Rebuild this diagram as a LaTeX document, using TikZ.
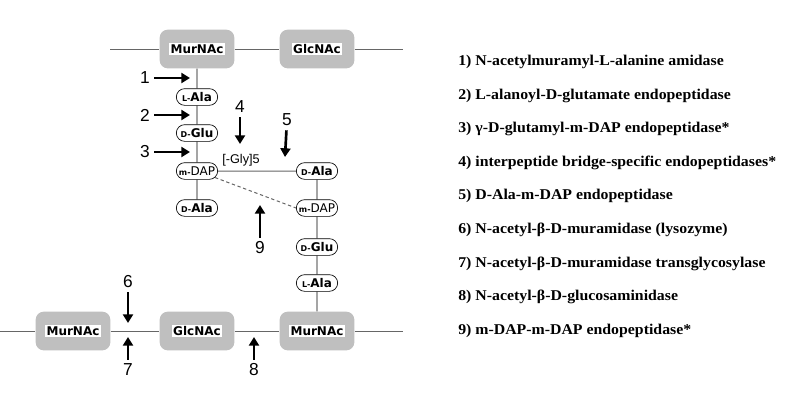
\documentclass[tikz,border=0pt]{standalone}
\usepackage{fontspec}
\setmainfont{Liberation Serif}
\newfontfamily\arial{Liberation Sans}
\newfontfamily\dejavu{DejaVu Sans}
\newfontfamily\wideserif[FakeStretch=1.06]{Liberation Serif}
\usetikzlibrary{arrows.meta,shapes.misc}

\newcommand\wbg[1]{{\setlength\fboxsep{1pt}\colorbox{white}{#1}}}
\newcommand\sm[1]{{\fontsize{6}{7}\selectfont #1}}

\begin{document}
\begin{tikzpicture}[x=0.75pt,y=-0.75pt,>={Triangle[length=6.5pt,width=7.5pt]},
    sugar/.style={fill=black!25,rounded corners=6pt,minimum width=56pt,
                  minimum height=29pt,font=\dejavu\bfseries\fontsize{9}{10}\selectfont},
    amino/.style={draw,rounded rectangle,minimum width=33pt,minimum height=12.5pt,
                  inner sep=1pt,line width=0.5pt,font=\dejavu\bfseries\fontsize{9}{10}\selectfont},
    num/.style={font=\arial\fontsize{13}{14}\selectfont,inner sep=1pt},
    cut/.style={->,line width=2pt,shorten <=2pt},
    glycan/.style={black!60,line width=0.75pt},
    peptide/.style={black,line width=0.5pt},
    legend/.style={anchor=west,inner sep=0pt,font=\wideserif\bfseries\fontsize{11.2}{13}\selectfont}]

  \useasboundingbox (0,0) rectangle (794,411);

  % glycan strands
  \node[sugar] (mur1) at (197,49)  {\wbg{MurNAc}};
  \node[sugar] (glc1) at (317,49)  {\wbg{GlcNAc}};
  \node[sugar] (mur2) at (73,331)  {\wbg{MurNAc}};
  \node[sugar] (glc2) at (197,331) {\wbg{GlcNAc}};
  \node[sugar] (mur3) at (317,331) {\wbg{MurNAc}};
  \coordinate (topW) at (110,49);
  \coordinate (topE) at (403,49);
  \coordinate (botW) at (0,331);
  \coordinate (botE) at (403,331);

  % stem peptides
  \node[amino] (ala1)  at (197,97)  {\sm{L-}Ala};
  \node[amino] (glu1)  at (197,133) {\sm{D-}Glu};
  \node[amino] (dap1)  at (197,171) {\sm{m-}{\mdseries DAP}};
  \node[amino] (dala1) at (197,208) {\sm{D-}Ala};
  \node[amino] (dala2) at (317,171) {\sm{D-}Ala};
  \node[amino] (dap2)  at (317,208) {\sm{m-}{\mdseries DAP}};
  \node[amino] (glu2)  at (317,247) {\sm{D-}Glu};
  \node[amino] (ala2)  at (317,283) {\sm{L-}Ala};
  \node[font=\arial\fontsize{9.5}{10}\selectfont,inner sep=0pt] (gly) at (241,160) {[-Gly]5};

  \draw[glycan] (topW) -- (mur1) -- (glc1) -- (topE);
  \draw[glycan] (botW) -- (mur2) -- (glc2) -- (mur3) -- (botE);
  \draw[peptide] (mur1) -- (ala1) -- (glu1) -- (dap1) -- (dala1);
  \draw[peptide] (dala2) -- (dap2) -- (glu2) -- (ala2) -- (mur3);
  \draw[glycan] (dap1) -- (dala2);
  \draw[glycan,dash pattern=on 2.5pt off 2pt] (dap1.-20) -- (dap2.west);

  % cleavage sites
  \node[num] (n1) at (145,78)  {1};
  \node[num] (n2) at (145,115) {2};
  \node[num] (n3) at (145,152) {3};
  \node[num] (n4) at (240,107) {4};
  \node[num] (n5) at (287,120) {5};
  \node[num] (n6) at (128,282) {6};
  \node[num] (n7) at (128,370) {7};
  \node[num] (n8) at (254,370) {8};
  \node[num] (n9) at (260,248) {9};
  \coordinate (c1) at (190,78);
  \coordinate (c2) at (190,115);
  \coordinate (c3) at (190,152);
  \coordinate (c4) at (240,144);
  \coordinate (c5) at (285,157);
  \coordinate (c6) at (128,323);
  \coordinate (c7) at (128,337);
  \coordinate (c8) at (254,337);
  \coordinate (c9) at (260,205);
  \foreach \k in {1,...,9}
    \draw[cut] (n\k) -- (c\k);

  % legend
  \foreach \i/\t in {1/{N-acetylmuramyl-L-alanine amidase},
                     2/{L-alanoyl-D-glutamate endopeptidase},
                     3/{γ-D-glutamyl-m-DAP endopeptidase*},
                     4/{interpeptide bridge-specific endopeptidases*},
                     5/{D-Ala-m-DAP endopeptidase},
                     6/{N-acetyl-β-D-muramidase (lysozyme)},
                     7/{N-acetyl-β-D-muramidase transglycosylase},
                     8/{N-acetyl-β-D-glucosaminidase},
                     9/{m-DAP-m-DAP endopeptidase*}}
    \node[legend] (l\i) at (458,{62+33.6*(\i-1)}) {\i) \t};
\end{tikzpicture}
\end{document}
